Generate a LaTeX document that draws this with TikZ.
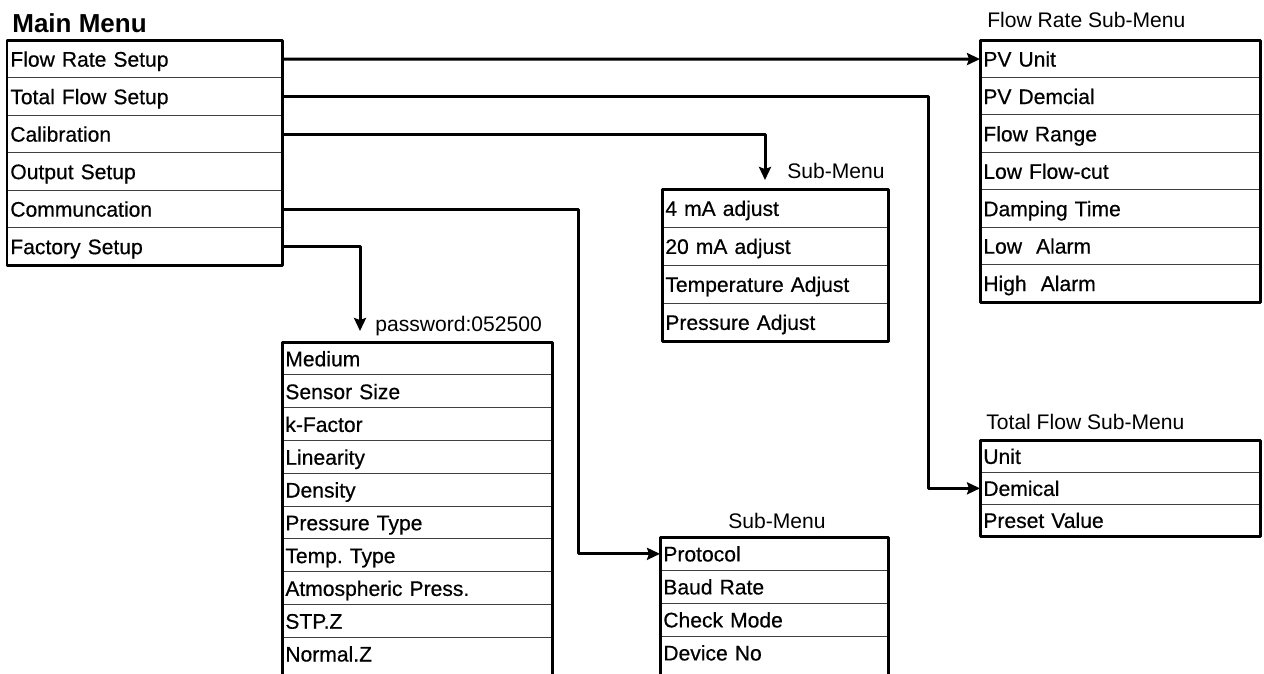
\documentclass[tikz,border=0pt]{standalone}
\usepackage{fontspec}
\setmainfont{Liberation Sans}
\newfontfamily\itemfont{Liberation Sans}[FakeBold=0.5]
\frenchspacing
\usetikzlibrary{arrows.meta}
\tikzset{
  row/.style={anchor=north west, inner xsep=0.06cm, inner ysep=0pt, align=left,
    text height=9pt, text depth=0.4pt, font=\itemfont\fontsize{12}{14}\selectfont},
  sep/.style={line width=0.55pt, black!75},
  outer/.style={line width=0.06cm},
  conn/.style={line width=0.06cm, -{Stealth[length=0.26cm,width=0.24cm,inset=0.04cm]}},
  title/.style={anchor=base west, inner sep=0pt, font=\fontsize{12}{14}\selectfont}
}
\begin{document}
\begin{tikzpicture}[x=0.02cm, y=-0.02cm, line join=round]
	\useasboundingbox (0,0) rectangle (1264,673);
	\clip (0,0) rectangle (1264,673);
	% main menu
	\node[title, font=\fontsize{14.8}{17}\selectfont\bfseries] (tmain) at (12,32) {Main Menu};
	\foreach \t [count=\i] in {Flow Rate Setup, Total Flow Setup, Calibration, Output Setup, Communcation, Factory Setup}
	{\node[row, text width=5.38cm, minimum height=0.75cm] (m\i) at (7,{40+(\i-1)*37.5}) {\t};
		\draw[sep] (m\i.north west) -- (m\i.north east);}
	\draw[outer] (m1.north west) rectangle (m6.south east);
	% flow rate sub-menu
	\node[title] (tflow) at (987,27) {Flow Rate Sub-Menu};
	\foreach \t [count=\i] in {PV Unit, PV Demcial, Flow Range, Low Flow-cut, Damping Time, Low~~Alarm, High~~Alarm}
	{\node[row, text width=5.48cm, minimum height=0.748cm] (f\i) at (980,{40+(\i-1)*37.4}) {\t};
		\draw[sep] (f\i.north west) -- (f\i.north east);}
	\draw[outer] (f1.north west) rectangle (f7.south east);
	% calibration sub-menu
	\node[title] (tcal) at (787,178) {Sub-Menu};
	\foreach \t [count=\i] in {4 mA adjust, 20 mA adjust, Temperature Adjust, Pressure Adjust}
	{\node[row, text width=4.40cm, minimum height=0.76cm] (c\i) at (662,{189+(\i-1)*38}) {\t};
		\draw[sep] (c\i.north west) -- (c\i.north east);}
	\draw[outer] (c1.north west) rectangle (c4.south east);
	% total flow sub-menu
	\node[title] (ttot) at (986,429) {Total Flow Sub-Menu};
	\foreach \t [count=\i] in {Unit, Demical, Preset Value}
	{\node[row, text width=5.48cm, minimum height=0.64cm] (t\i) at (980,{440+(\i-1)*32}) {\t};
		\draw[sep] (t\i.north west) -- (t\i.north east);}
	\draw[outer] (t1.north west) rectangle (t3.south east);
	% communication sub-menu (cut at the bottom)
	\node[title] (tcom) at (728,528) {Sub-Menu};
	\foreach \t [count=\i] in {Protocol, Baud Rate, Check Mode, Device No}
	{\node[row, text width=4.44cm, minimum height=0.66cm] (s\i) at (660,{537+(\i-1)*33}) {\t};
		\draw[sep] (s\i.north west) -- (s\i.north east);}
	\draw[outer] ([yshift=-0.4cm]s4.south west) -- (s1.north west) -- (s1.north east) -- ([yshift=-0.4cm]s4.south east);
	% factory setup (cut at the bottom)
	\node[title] (tpass) at (375,331) {password:052500};
	\foreach \t [count=\i] in {Medium, Sensor Size, k-Factor, Linearity, Density, Pressure Type, Temp. Type, Atmospheric Press., STP.Z, Normal.Z}
	{\node[row, text width=5.28cm, minimum height=0.656cm] (p\i) at (282,{342+(\i-1)*32.8}) {\t};
		\draw[sep] (p\i.north west) -- (p\i.north east);}
	\draw[outer] ([yshift=-0.4cm]p10.south west) -- (p1.north west) -- (p1.north east) -- ([yshift=-0.4cm]p10.south east);
	% connectors
	\draw[conn] (m1.east) -- (f1.west);
	\draw[conn] (m2.east) -- ++(646,0) |- (t2.west);
	\draw[conn] (m3.east) -| ([shift={(103,-9)}]c1.north west);
	\draw[conn] (m5.east) -- ++(296,0) |- (s1.west);
	\draw[conn] (m6.east) -| ([shift={(78,-11)}]p1.north west);
\end{tikzpicture}
\end{document}
